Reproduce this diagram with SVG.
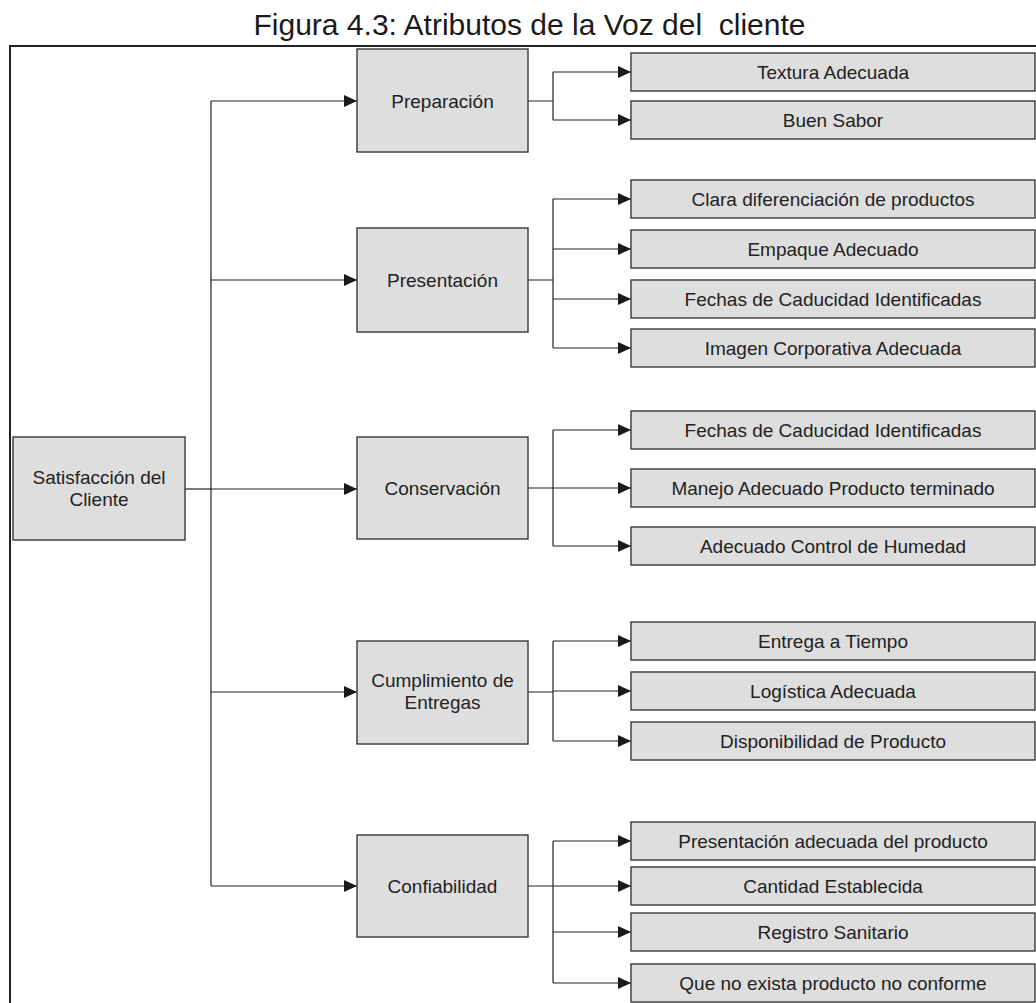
<svg xmlns="http://www.w3.org/2000/svg" width="1036" height="1003" viewBox="0 0 1036 1003">
  <style>
    .box { fill: #dedede; stroke: #3a3a3a; stroke-width: 1.4; }
    .lbl { font-family: "Liberation Sans", Arial, sans-serif; font-size: 19px; fill: #222; text-anchor: middle; }
    .title { font-family: "Liberation Sans", Arial, sans-serif; font-size: 30px; fill: #1a1a1a; text-anchor: middle; white-space: pre; }
    .wire { fill: none; stroke: #222; stroke-width: 1.2; }
    .arrow { fill: none; stroke: #222; stroke-width: 1.2; marker-end: url(#tip); }
    .frame { fill: none; stroke: #222; stroke-width: 2; }
  </style>
  <defs>
    <marker id="tip" markerUnits="userSpaceOnUse" markerWidth="13" markerHeight="12" refX="13" refY="6" orient="auto">
      <path d="M0,0 L13,6 L0,12 z" fill="#1a1a1a"/>
    </marker>
  </defs>

  <rect width="1036" height="1003" fill="#ffffff"/>

  <text class="title" x="529.5" y="35" xml:space="preserve">Figura 4.3: Atributos de la Voz del  cliente</text>

  <!-- outer frame (open to the right and bottom) -->
  <path class="frame" d="M10,1003 V46 H1036"/>

  <!-- connectors -->
  <g id="connectors">
    <!-- root to trunk -->
    <path class="wire" d="M185,489 H211"/>
    <path class="wire" d="M211,101 V886"/>
    <path class="arrow" d="M211,101 H357"/>
    <path class="arrow" d="M211,280 H357"/>
    <path class="arrow" d="M211,489 H357"/>
    <path class="arrow" d="M211,692 H357"/>
    <path class="arrow" d="M211,886 H357"/>

    <!-- Preparación -->
    <path class="wire" d="M528,101 H553 M553,72 V120"/>
    <path class="arrow" d="M553,72 H631"/>
    <path class="arrow" d="M553,120 H631"/>

    <!-- Presentación -->
    <path class="wire" d="M528,280 H553 M553,199 V348"/>
    <path class="arrow" d="M553,199 H631"/>
    <path class="arrow" d="M553,249 H631"/>
    <path class="arrow" d="M553,299 H631"/>
    <path class="arrow" d="M553,348 H631"/>

    <!-- Conservación -->
    <path class="wire" d="M528,488 H553 M553,430 V546"/>
    <path class="arrow" d="M553,430 H631"/>
    <path class="arrow" d="M553,488 H631"/>
    <path class="arrow" d="M553,546 H631"/>

    <!-- Cumplimiento de Entregas -->
    <path class="wire" d="M528,692 H553 M553,641 V741"/>
    <path class="arrow" d="M553,641 H631"/>
    <path class="arrow" d="M553,691 H631"/>
    <path class="arrow" d="M553,741 H631"/>

    <!-- Confiabilidad -->
    <path class="wire" d="M528,886 H553 M553,841 V983"/>
    <path class="arrow" d="M553,841 H631"/>
    <path class="arrow" d="M553,886 H631"/>
    <path class="arrow" d="M553,932 H631"/>
    <path class="arrow" d="M553,983 H631"/>
  </g>

  <!-- root -->
  <g id="satisfaccion">
    <rect class="box" x="13" y="437" width="172" height="103"/>
    <text class="lbl" x="99" y="484">Satisfacción del</text>
    <text class="lbl" x="99" y="506">Cliente</text>
  </g>

  <!-- second level -->
  <g id="preparacion">
    <rect class="box" x="357" y="49" width="171" height="103"/>
    <text class="lbl" x="442.5" y="108">Preparación</text>
  </g>
  <g id="presentacion">
    <rect class="box" x="357" y="228" width="171" height="104"/>
    <text class="lbl" x="442.5" y="287">Presentación</text>
  </g>
  <g id="conservacion">
    <rect class="box" x="357" y="437" width="171" height="102"/>
    <text class="lbl" x="442.5" y="495">Conservación</text>
  </g>
  <g id="cumplimiento">
    <rect class="box" x="357" y="641" width="171" height="103"/>
    <text class="lbl" x="442.5" y="687">Cumplimiento de</text>
    <text class="lbl" x="442.5" y="709">Entregas</text>
  </g>
  <g id="confiabilidad">
    <rect class="box" x="357" y="835" width="171" height="102"/>
    <text class="lbl" x="442.5" y="893">Confiabilidad</text>
  </g>

  <!-- attributes -->
  <g id="textura">
    <rect class="box" x="631" y="53" width="404" height="38"/>
    <text class="lbl" x="833" y="78.5">Textura Adecuada</text>
  </g>
  <g id="sabor">
    <rect class="box" x="631" y="101" width="404" height="38"/>
    <text class="lbl" x="833" y="126.5">Buen Sabor</text>
  </g>
  <g id="diferenciacion">
    <rect class="box" x="631" y="180" width="404" height="38"/>
    <text class="lbl" x="833" y="205.5">Clara diferenciación de productos</text>
  </g>
  <g id="empaque">
    <rect class="box" x="631" y="230" width="404" height="38"/>
    <text class="lbl" x="833" y="255.5">Empaque Adecuado</text>
  </g>
  <g id="fechas-1">
    <rect class="box" x="631" y="280" width="404" height="38"/>
    <text class="lbl" x="833" y="305.5">Fechas de Caducidad Identificadas</text>
  </g>
  <g id="imagen">
    <rect class="box" x="631" y="329" width="404" height="38"/>
    <text class="lbl" x="833" y="354.5">Imagen Corporativa Adecuada</text>
  </g>
  <g id="fechas-2">
    <rect class="box" x="631" y="411" width="404" height="38"/>
    <text class="lbl" x="833" y="436.5">Fechas de Caducidad Identificadas</text>
  </g>
  <g id="manejo">
    <rect class="box" x="631" y="469" width="404" height="38"/>
    <text class="lbl" x="833" y="494.5">Manejo Adecuado Producto terminado</text>
  </g>
  <g id="humedad">
    <rect class="box" x="631" y="527" width="404" height="38"/>
    <text class="lbl" x="833" y="552.5">Adecuado Control de Humedad</text>
  </g>
  <g id="entrega">
    <rect class="box" x="631" y="622" width="404" height="38"/>
    <text class="lbl" x="833" y="647.5">Entrega a Tiempo</text>
  </g>
  <g id="logistica">
    <rect class="box" x="631" y="672" width="404" height="38"/>
    <text class="lbl" x="833" y="697.5">Logística Adecuada</text>
  </g>
  <g id="disponibilidad">
    <rect class="box" x="631" y="722" width="404" height="38"/>
    <text class="lbl" x="833" y="747.5">Disponibilidad de Producto</text>
  </g>
  <g id="presentacion-adecuada">
    <rect class="box" x="631" y="822" width="404" height="38"/>
    <text class="lbl" x="833" y="847.5">Presentación adecuada del producto</text>
  </g>
  <g id="cantidad">
    <rect class="box" x="631" y="867" width="404" height="38"/>
    <text class="lbl" x="833" y="892.5">Cantidad Establecida</text>
  </g>
  <g id="registro">
    <rect class="box" x="631" y="913" width="404" height="38"/>
    <text class="lbl" x="833" y="938.5">Registro Sanitario</text>
  </g>
  <g id="no-conforme">
    <rect class="box" x="631" y="964" width="404" height="38"/>
    <text class="lbl" x="833" y="989.5">Que no exista producto no conforme</text>
  </g>
</svg>
